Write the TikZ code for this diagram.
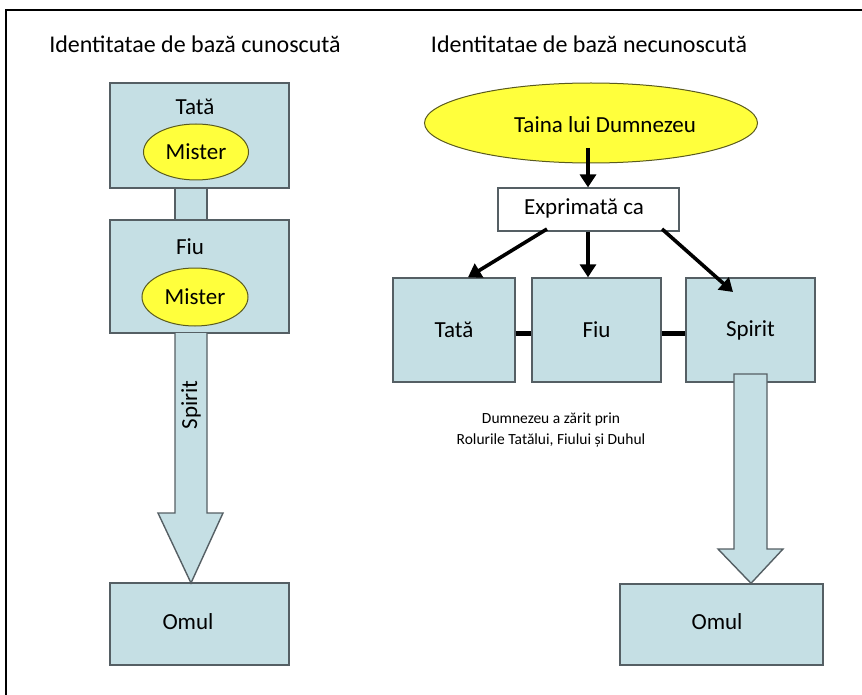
\documentclass[tikz,border=0pt]{standalone}
\usepackage{fontspec}
\setmainfont{Carlito}
\usetikzlibrary{arrows.meta,shapes.geometric}
\definecolor{boxblue}{RGB}{197,223,228}
\definecolor{boxline}{RGB}{85,95,100}
\definecolor{mystyellow}{RGB}{255,255,60}
\definecolor{mystline}{RGB}{90,90,30}

\begin{document}
\begin{tikzpicture}[
          x=1pt, y=-1pt,
          every node/.style={font=\fontsize{23}{27}\selectfont, inner sep=0pt},
          heading/.style={font=\fontsize{24}{28}\selectfont},
          box/.style={draw=boxline, line width=1.4pt, fill=boxblue, rectangle},
          mystery/.style={draw=mystline, line width=1pt, fill=mystyellow, ellipse},
          whitebox/.style={draw=boxline, line width=1.2pt, fill=white, rectangle},
          blockarrow/.style={draw=boxline, line width=1.4pt, fill=boxblue, line join=miter},
          flow/.style={line width=3.6pt, -{Triangle[length=13pt, width=16pt]}},
          bond/.style={line width=5pt}
        ]
        \useasboundingbox (0,0) rectangle (862,695);

        % frame
        \draw[line width=2.5pt] (6,695) -- (6,10) -- (862,10);

        % left side
        \node[heading] (titleL) at (195,44) {Identitatae de bază cunoscută};
        \node[box, minimum width=32pt, minimum height=34pt] (linkL) at (191,204) {};
        \node[box, minimum width=179pt, minimum height=105pt] (tataL) at (199.5,135.5) {};
        \node (tataLtxt) at (195,107) {Tată};
        \node[mystery, minimum width=105pt, minimum height=56pt] (misterL1) at (196,152) {Mister};
        \node[box, minimum width=179pt, minimum height=113pt] (fiuL) at (199.5,276.5) {};
        \node (fiuLtxt) at (190,247) {Fiu};
        \node[mystery, minimum width=106pt, minimum height=58pt] (misterL2) at (195,297) {Mister};
        \node[box, minimum width=179pt, minimum height=82pt] (omulL) at (199.5,624) {};
        \node (omulLtxt) at (188,622) {Omul};

        % Draw the big arrow from Fiu to Omul
        \coordinate (spL) at (191,333);
        \coordinate (tipL) at (191,583);
        \draw[blockarrow] ([xshift=-16pt]spL) -- (175,513) -- (158,513) -- (tipL)
          -- (223,513) -- (207,513) -- ([xshift=16pt]spL);
        \node[rotate=90] (spiritL) at (191,405) {Spirit};

        % right side
        \node[heading] (titleR) at (589,44) {Identitatae de bază necunoscută};
        \node[mystery, minimum width=333pt, minimum height=80pt] (taina) at (591,123) {};
        \node (tainatxt) at (605,125) {Taina lui Dumnezeu};
        \node[whitebox, minimum width=181pt, minimum height=43pt] (expr) at (588.5,209.5) {};
        \node (exprtxt) at (584,208) {Exprimată ca};
        \node[box, minimum width=122pt, minimum height=104pt] (tataR) at (454,330) {Tată};
        \node[box, minimum width=129pt, minimum height=104pt] (fiuR) at (596.5,330) {Fiu};
        \node[box, minimum width=129pt, minimum height=104pt] (spiritR) at (750.5,330) {Spirit};
        \node[box, minimum width=203pt, minimum height=81pt] (omulR) at (721.5,624.5) {};
        \node (omulRtxt) at (717,622) {Omul};
        \node[font=\fontsize{15.5}{21}\selectfont, align=center] (note) at (551,430)
          {Dumnezeu a zărit prin\\Rolurile Tatălui, Fiului și Duhul};

        % Draw the arrows
        \draw[flow] ([shift={(-3pt,-25pt)}]taina.center) -- (expr.north -| 588,0);
        \draw[flow] (547,229) -- (tataR.north -| 468,0);
        \draw[flow] (expr.south -| 588,0) -- (fiuR.north -| 588,0);
        \draw[flow] (662,229) -- (733,292);

        % Draw the bonds between the roles
        \draw[bond] (tataR.east |- 0,333) -- (fiuR.west |- 0,333);
        \draw[bond] (fiuR.east |- 0,333) -- (spiritR.west |- 0,333);

        % Draw the big arrow from Spirit to Omul
        \coordinate (tipR) at (omulR.north -| 751,0);
        \draw[blockarrow] (734,374) -- (734,549) -- (718,549) -- (tipR)
          -- (783,549) -- (767,549) -- (767,374) -- cycle;
      \end{tikzpicture}
\end{document}
